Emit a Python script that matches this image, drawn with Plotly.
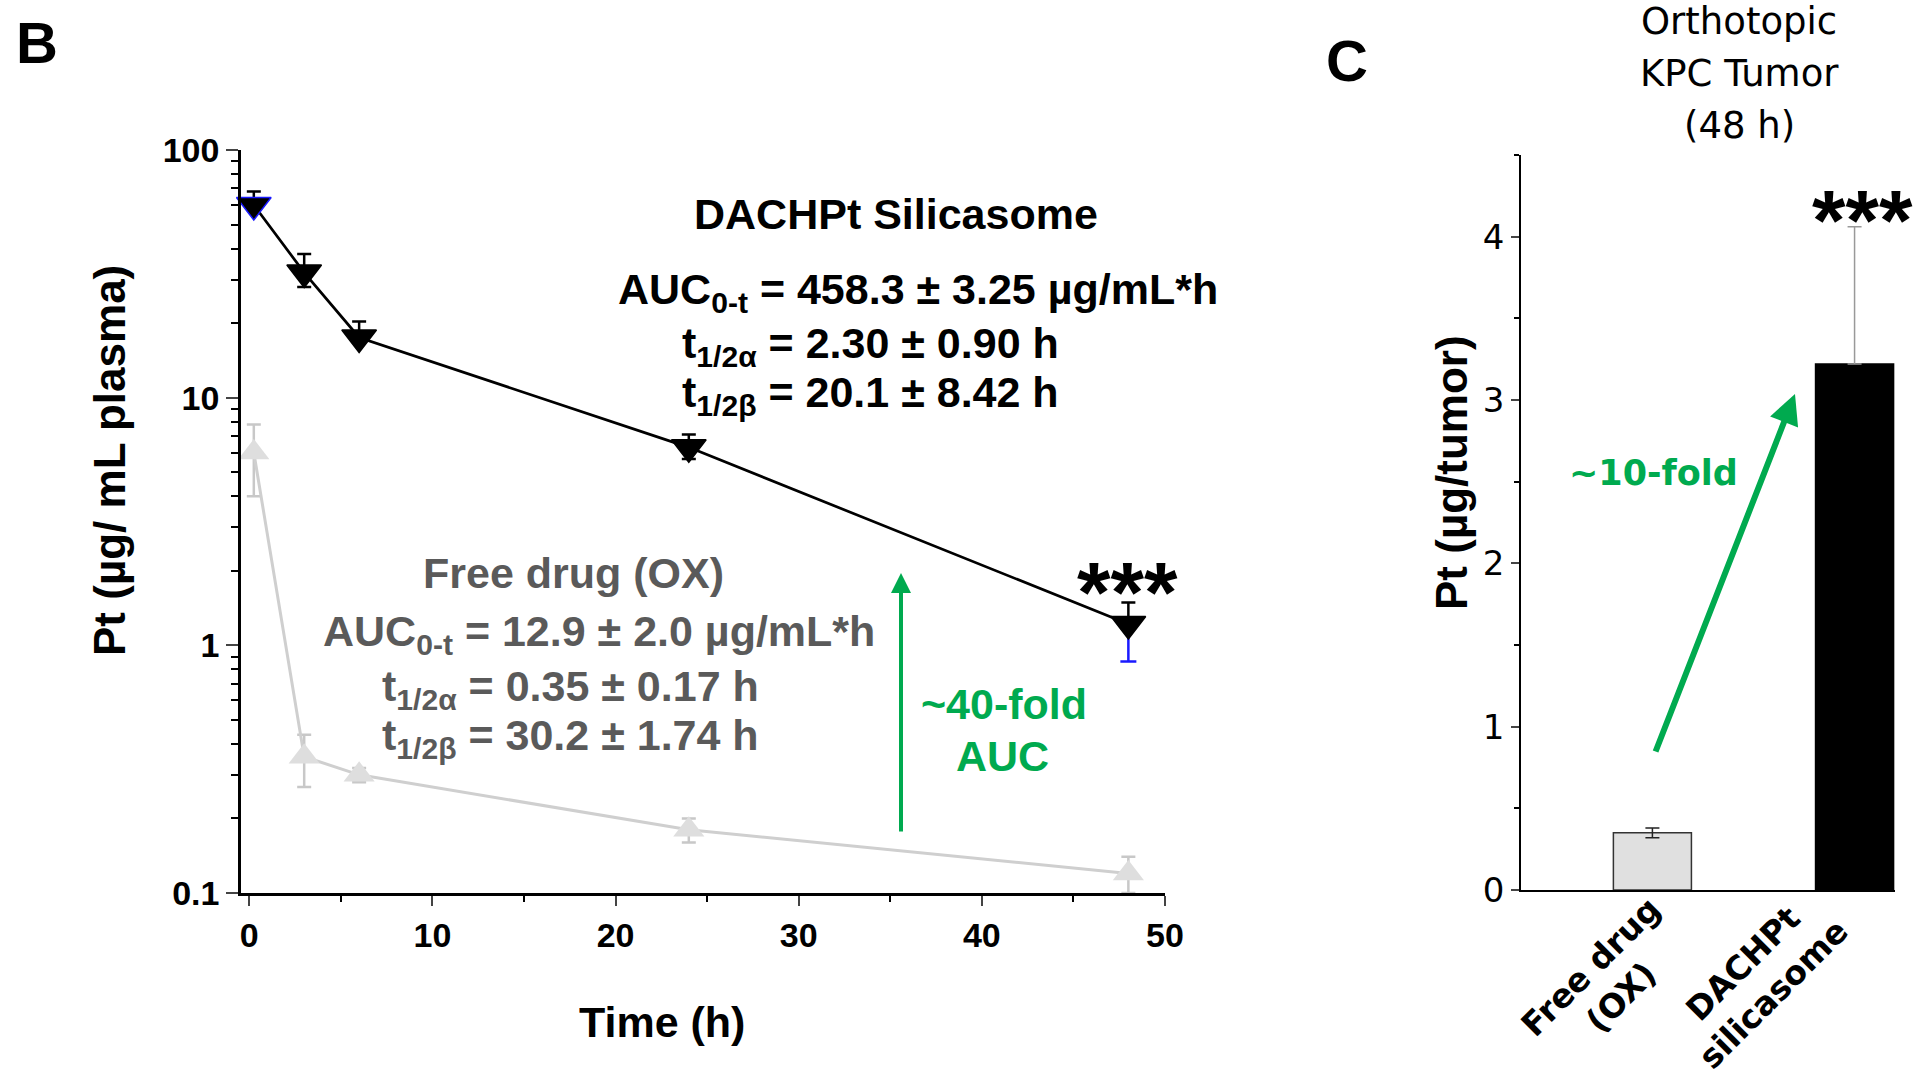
import plotly.graph_objects as go

# ---------------- data ----------------
time_h = [0.25, 3, 6, 24, 48]
dachpt_pt = [60, 32, 17.5, 6.3, 1.22]
dachpt_err_plus = [8, 6, 2.8, 0.8, 0.27]
dachpt_err_minus = [0, 4, 0, 0.65, 0]
blue_time = [48]
blue_pt = [1.22]
blue_err_minus = [0.36]
free_pt = [6.0, 0.355, 0.30, 0.18, 0.12]
free_err_plus = [1.8, 0.08, 0.02, 0.02, 0.02]
free_err_minus = [2.0, 0.087, 0.02, 0.02, 0.02]

tumor_groups = ["Free drug (OX)", "DACHPt silicasome"]
tumor_pt = [0.35, 3.22]
tumor_err_plus = [0.03, 0.84]
tumor_err_minus = [0.03, 0.0]

x_ticks_b = [0, 10, 20, 30, 40, 50]
y_ticks_b = [0.1, 1, 10, 100]
y_ticks_c = [0, 1, 2, 3, 4]

W, H = 1920, 1084
def px(x):
    return x / W
def py(y):
    return 1 - y / H

ARIAL = "Liberation Sans, Arial, sans-serif"
WIDE = "DejaVu Sans, Verdana, sans-serif"
GREEN = "#00AA4F"
GREYTXT = "#5a5a5a"

fig = go.Figure()

# Panel B
fig.add_trace(go.Scatter(
    x=time_h, y=free_pt, mode="lines+markers",
    line=dict(color="#cfcfcf", width=3),
    marker=dict(symbol="triangle-up", size=27, color="#dedede", line=dict(width=0)),
    error_y=dict(type="data", symmetric=False, array=free_err_plus, arrayminus=free_err_minus,
                 color="#c8c8c8", thickness=2.5, width=7),
    xaxis="x", yaxis="y", showlegend=False, cliponaxis=False))
fig.add_trace(go.Scatter(
    x=blue_time, y=blue_pt, mode="markers",
    marker=dict(size=1, color="rgba(0,0,0,0)"),
    error_y=dict(type="data", symmetric=False, array=[0], arrayminus=blue_err_minus,
                 color="#1a1aff", thickness=2.5, width=8),
    xaxis="x", yaxis="y", showlegend=False, hoverinfo="skip"))
fig.add_trace(go.Scatter(
    x=time_h, y=dachpt_pt, mode="lines+markers",
    line=dict(color="black", width=2.7),
    marker=dict(symbol="triangle-down", size=30, color="black",
                line=dict(width=1.5, color=["#1a1aff", "black", "black", "black", "black"])),
    error_y=dict(type="data", symmetric=False, array=dachpt_err_plus, arrayminus=dachpt_err_minus,
                 color="black", thickness=2.5, width=7),
    xaxis="x", yaxis="y", showlegend=False, cliponaxis=False))

# Panel C
bar_colors = ["#e0e0e0", "black"]
bar_line = ["#333333", "black"]
err_colors = ["#222222", "#999999"]
for i in range(2):
    fig.add_trace(go.Bar(
        x=[tumor_groups[i]], y=[tumor_pt[i]], width=0.386,
        marker=dict(color=bar_colors[i], line=dict(color=bar_line[i], width=1.5)),
        error_y=dict(type="data", symmetric=False, array=[tumor_err_plus[i]],
                     arrayminus=[tumor_err_minus[i]], color=err_colors[i], thickness=1.5, width=7),
        xaxis="x2", yaxis="y2", showlegend=False))

fig.update_layout(
    width=W, height=H, margin=dict(l=0, r=0, t=0, b=0, autoexpand=False),
    paper_bgcolor="white", plot_bgcolor="white", barmode="overlay",
    xaxis=dict(domain=[px(241), px(1165)], range=[-0.45, 50], anchor="y", automargin=False,
               tickvals=x_ticks_b, ticks="outside", ticklen=10, tickwidth=2,
               showline=True, linewidth=2.5, linecolor="black", showgrid=False, zeroline=False,
               minor=dict(tickvals=[5, 15, 25, 35, 45], ticks="outside", ticklen=6, tickwidth=2, tickcolor="black"),
               tickfont=dict(family=ARIAL, size=34, color="black", weight="bold")),
    yaxis=dict(domain=[py(893), py(150)], type="log", range=[-1, 2], anchor="x", automargin=False,
               tickvals=y_ticks_b, ticktext=["0.1", "1", "10", "100"],
               ticks="outside", ticklen=12, tickwidth=2,
               showline=True, linewidth=2.5, linecolor="black", showgrid=False, zeroline=False,
               minor=dict(tickvals=[k * m for m in [0.1, 1, 10] for k in range(2, 10)],
                          ticks="outside", ticklen=7, tickwidth=2, tickcolor="black"),
               tickfont=dict(family=ARIAL, size=34, color="black", weight="bold")),
    xaxis2=dict(domain=[px(1521), px(1895)], range=[-0.65, 1.2], anchor="y2", automargin=False,
                type="category", showticklabels=False, ticks="",
                showline=True, linewidth=2, linecolor="black", showgrid=False),
    yaxis2=dict(domain=[py(890), py(155)], range=[0, 4.5], anchor="x2", automargin=False,
                tickvals=y_ticks_c, ticks="outside", ticklen=8, tickwidth=1.5,
                showline=True, linewidth=1.5, linecolor="black", showgrid=False, zeroline=False,
                minor=dict(tickvals=[0.5, 1.5, 2.5, 3.5, 4.5], ticks="outside", ticklen=5, tickwidth=1.5, tickcolor="black"),
                tickfont=dict(family=WIDE, size=34, color="black")),
)

ann = []
def text(x, y, s, size, color="black", family=ARIAL, bold=True, xanchor="center", angle=0):
    ann.append(dict(x=px(x), y=py(y), xref="paper", yref="paper", text=s, showarrow=False,
                    xanchor=xanchor, yanchor="middle", textangle=angle,
                    font=dict(family=family, size=size, color=color, weight="bold" if bold else "normal")))

# panel letters
text(37, 43, "B", 58)
text(1347, 61, "C", 58)

# panel B labels
text(662, 1022, "Time (h)", 43)
text(110, 461, "Pt (µg/ mL plasma)", 44, angle=-90)
text(896, 214, "DACHPt Silicasome", 43)
text(616, 292, "AUC<sub>0-t</sub> = 458.3 ± 3.25 µg/mL*h", 43, xanchor="left")
text(680, 346, "t<sub>1/2α</sub> = 2.30 ± 0.90 h", 43, xanchor="left")
text(680, 395, "t<sub>1/2β</sub> = 20.1 ± 8.42 h", 43, xanchor="left")
text(573, 573, "Free drug (OX)", 43, color=GREYTXT)
text(321, 634, "AUC<sub>0-t</sub> = 12.9 ± 2.0 µg/mL*h", 43, color=GREYTXT, xanchor="left")
text(380, 689, "t<sub>1/2α</sub> = 0.35 ± 0.17 h", 43, color=GREYTXT, xanchor="left")
text(380, 738, "t<sub>1/2β</sub> = 30.2 ± 1.74 h", 43, color=GREYTXT, xanchor="left")
text(1004, 704, "~40-fold", 43, color=GREEN)
text(1002, 756, "AUC", 43, color=GREEN)
text(1127, 592, "***", 86)

# panel C labels
text(1739, 22, "Orthotopic", 37, family=WIDE, bold=False)
text(1739, 73, "KPC Tumor", 37, family=WIDE, bold=False)
text(1739, 125, "(48 h)", 37, family=WIDE, bold=False)
text(1451, 473, "Pt (µg/tumor)", 44, angle=-90)
text(1653, 473, "~10-fold", 35, color=GREEN, family=WIDE)
text(1862, 220, "***", 86)
text(1606, 982, "Free drug<br>(OX)", 33, family=WIDE, angle=-45)
text(1758, 979, "DACHPt<br>silicasome", 33, family=WIDE, angle=-45)

# arrows
ann.append(dict(x=px(901), y=py(573), xref="paper", yref="paper", ax=0, ay=260,
                showarrow=True, arrowhead=2, arrowsize=1, arrowwidth=4, arrowcolor=GREEN, text=""))
ann.append(dict(x=px(1795), y=py(394), xref="paper", yref="paper", ax=-140, ay=359,
                showarrow=True, arrowhead=2, arrowsize=1, arrowwidth=6, arrowcolor=GREEN, text=""))

fig.update_layout(annotations=ann)
fig.write_html("out.html", config={"displayModeBar": False},
               post_script="document.body.style.margin='0';document.body.style.overflow='hidden';")
